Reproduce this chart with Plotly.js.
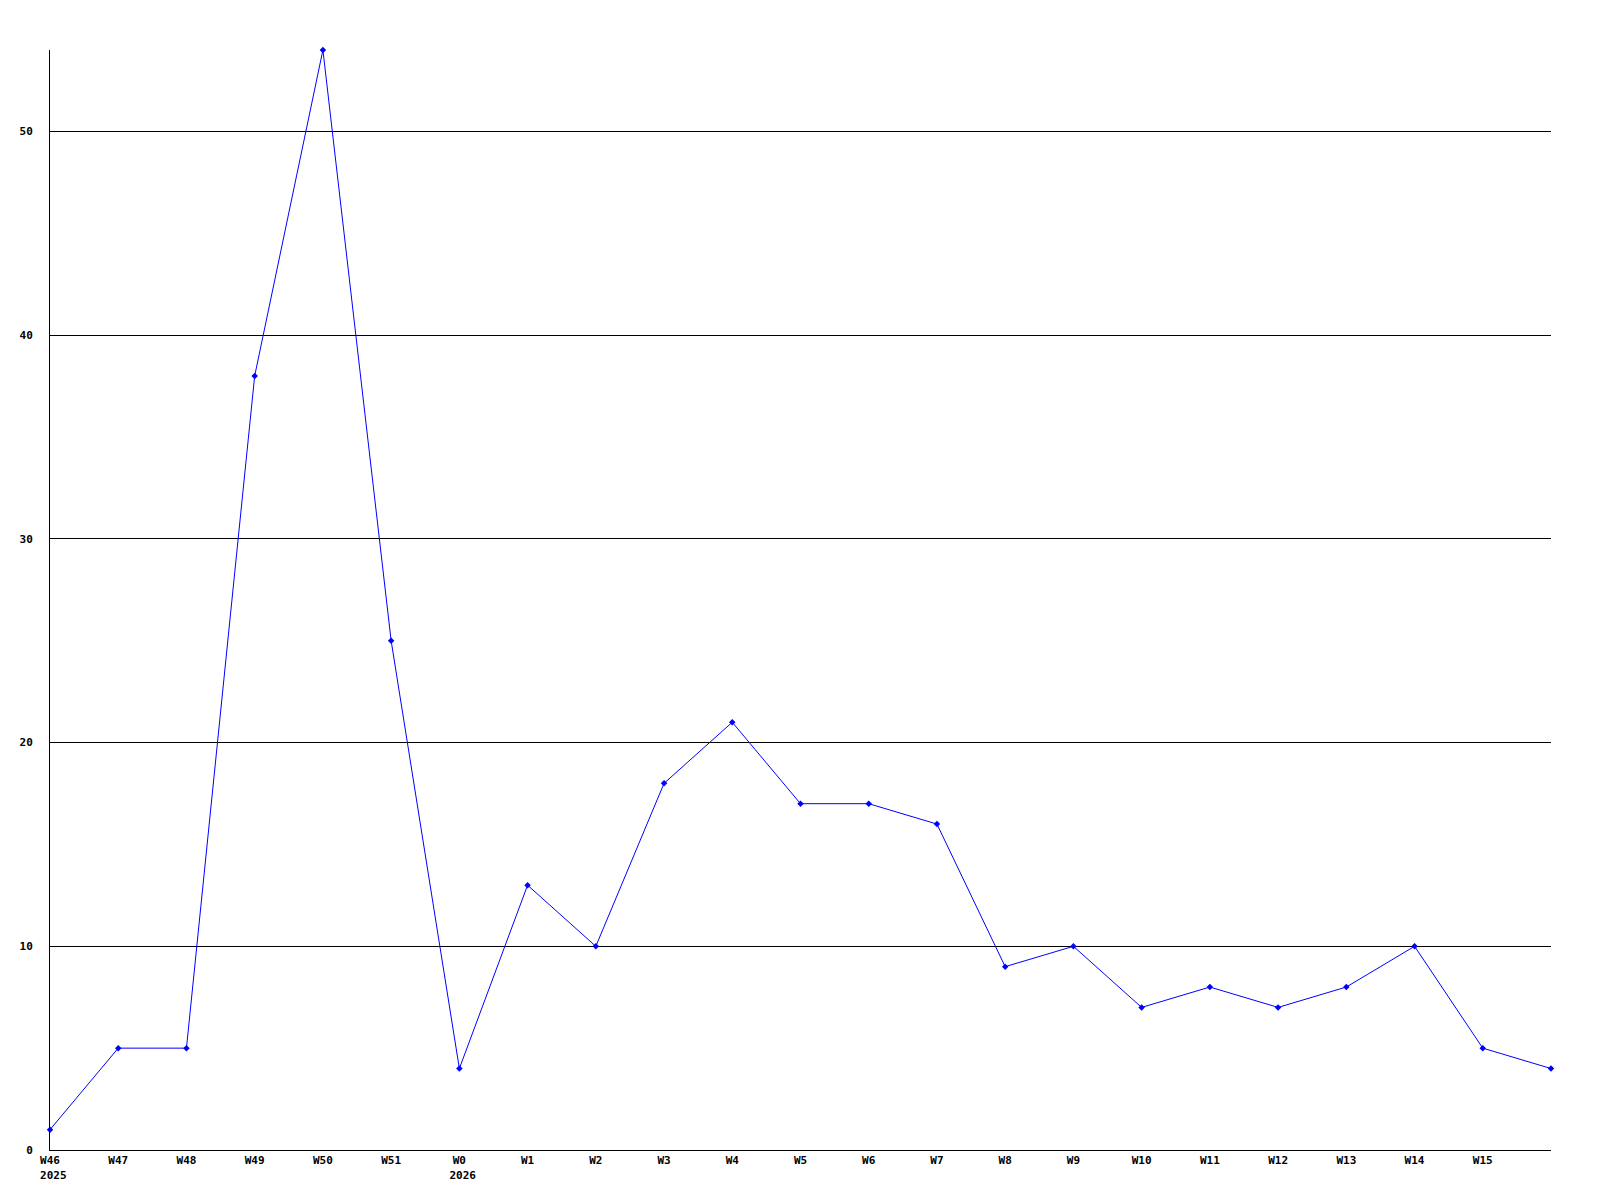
<!DOCTYPE html>
<html>
<head>
<meta charset="utf-8">
<script src="https://cdn.plot.ly/plotly-3.0.1.min.js"></script>
<style>html,body{margin:0;padding:0;background:#fff;}#chart{width:1600px;height:1200px;}</style>
</head>
<body>
<div id="chart"></div>
<script>
const weeks = ['W46','W47','W48','W49','W50','W51','W0','W1','W2','W3','W4','W5','W6','W7','W8','W9','W10','W11','W12','W13','W14','W15','W16'];
const values = [1,5,5,38,54,25,4,13,10,18,21,17,17,16,9,10,7,8,7,8,10,5,4];
const yearLabels = {'W46':'2025','W0':'2026'};
const labelledWeeks = weeks.slice(0, 22);
const yTicks = [0,10,20,30,40,50];

const tickText = labelledWeeks.map(w => yearLabels[w] ? (w + '<br>\u00a0' + yearLabels[w]) : w);

const trace = {
  x: weeks,
  y: values,
  type: 'scatter',
  mode: 'lines+markers',
  line: {color: '#0000ff', width: 1},
  marker: {color: '#0000ff', size: 5, symbol: 'diamond'},
  cliponaxis: false,
  hoverinfo: 'x+y'
};

const font = {family: '"DejaVu Sans Mono", monospace', size: 11, color: '#000'};

const layout = {
  width: 1600,
  height: 1200,
  margin: {l: 50, r: 49, t: 50, b: 50},
  paper_bgcolor: '#fff',
  plot_bgcolor: '#fff',
  showlegend: false,
  font: font,
  xaxis: {
    type: 'category',
    range: [0, weeks.length - 1],
    tickmode: 'array',
    tickvals: labelledWeeks,
    ticktext: tickText,
    showgrid: false,
    zeroline: false,
    showline: true,
    linecolor: '#000',
    linewidth: 1,
    ticks: '',
    tickangle: 0,
    tickfont: {family: '"DejaVu Sans Mono", monospace', size: 11, color: '#000', weight: 'bold'}
  },
  yaxis: {
    range: [0, 54],
    tickmode: 'array',
    tickvals: yTicks,
    ticktext: yTicks.map(String),
    showgrid: true,
    gridcolor: '#000',
    gridwidth: 1,
    zeroline: false,
    showline: true,
    linecolor: '#000',
    linewidth: 1,
    ticks: '',
    ticklabelstandoff: 14,
    tickfont: {family: '"DejaVu Sans Mono", monospace', size: 11, color: '#000', weight: 'bold'}
  }
};

Plotly.newPlot('chart', [trace], layout, {staticPlot: true, displayModeBar: false});
</script>
</body>
</html>
